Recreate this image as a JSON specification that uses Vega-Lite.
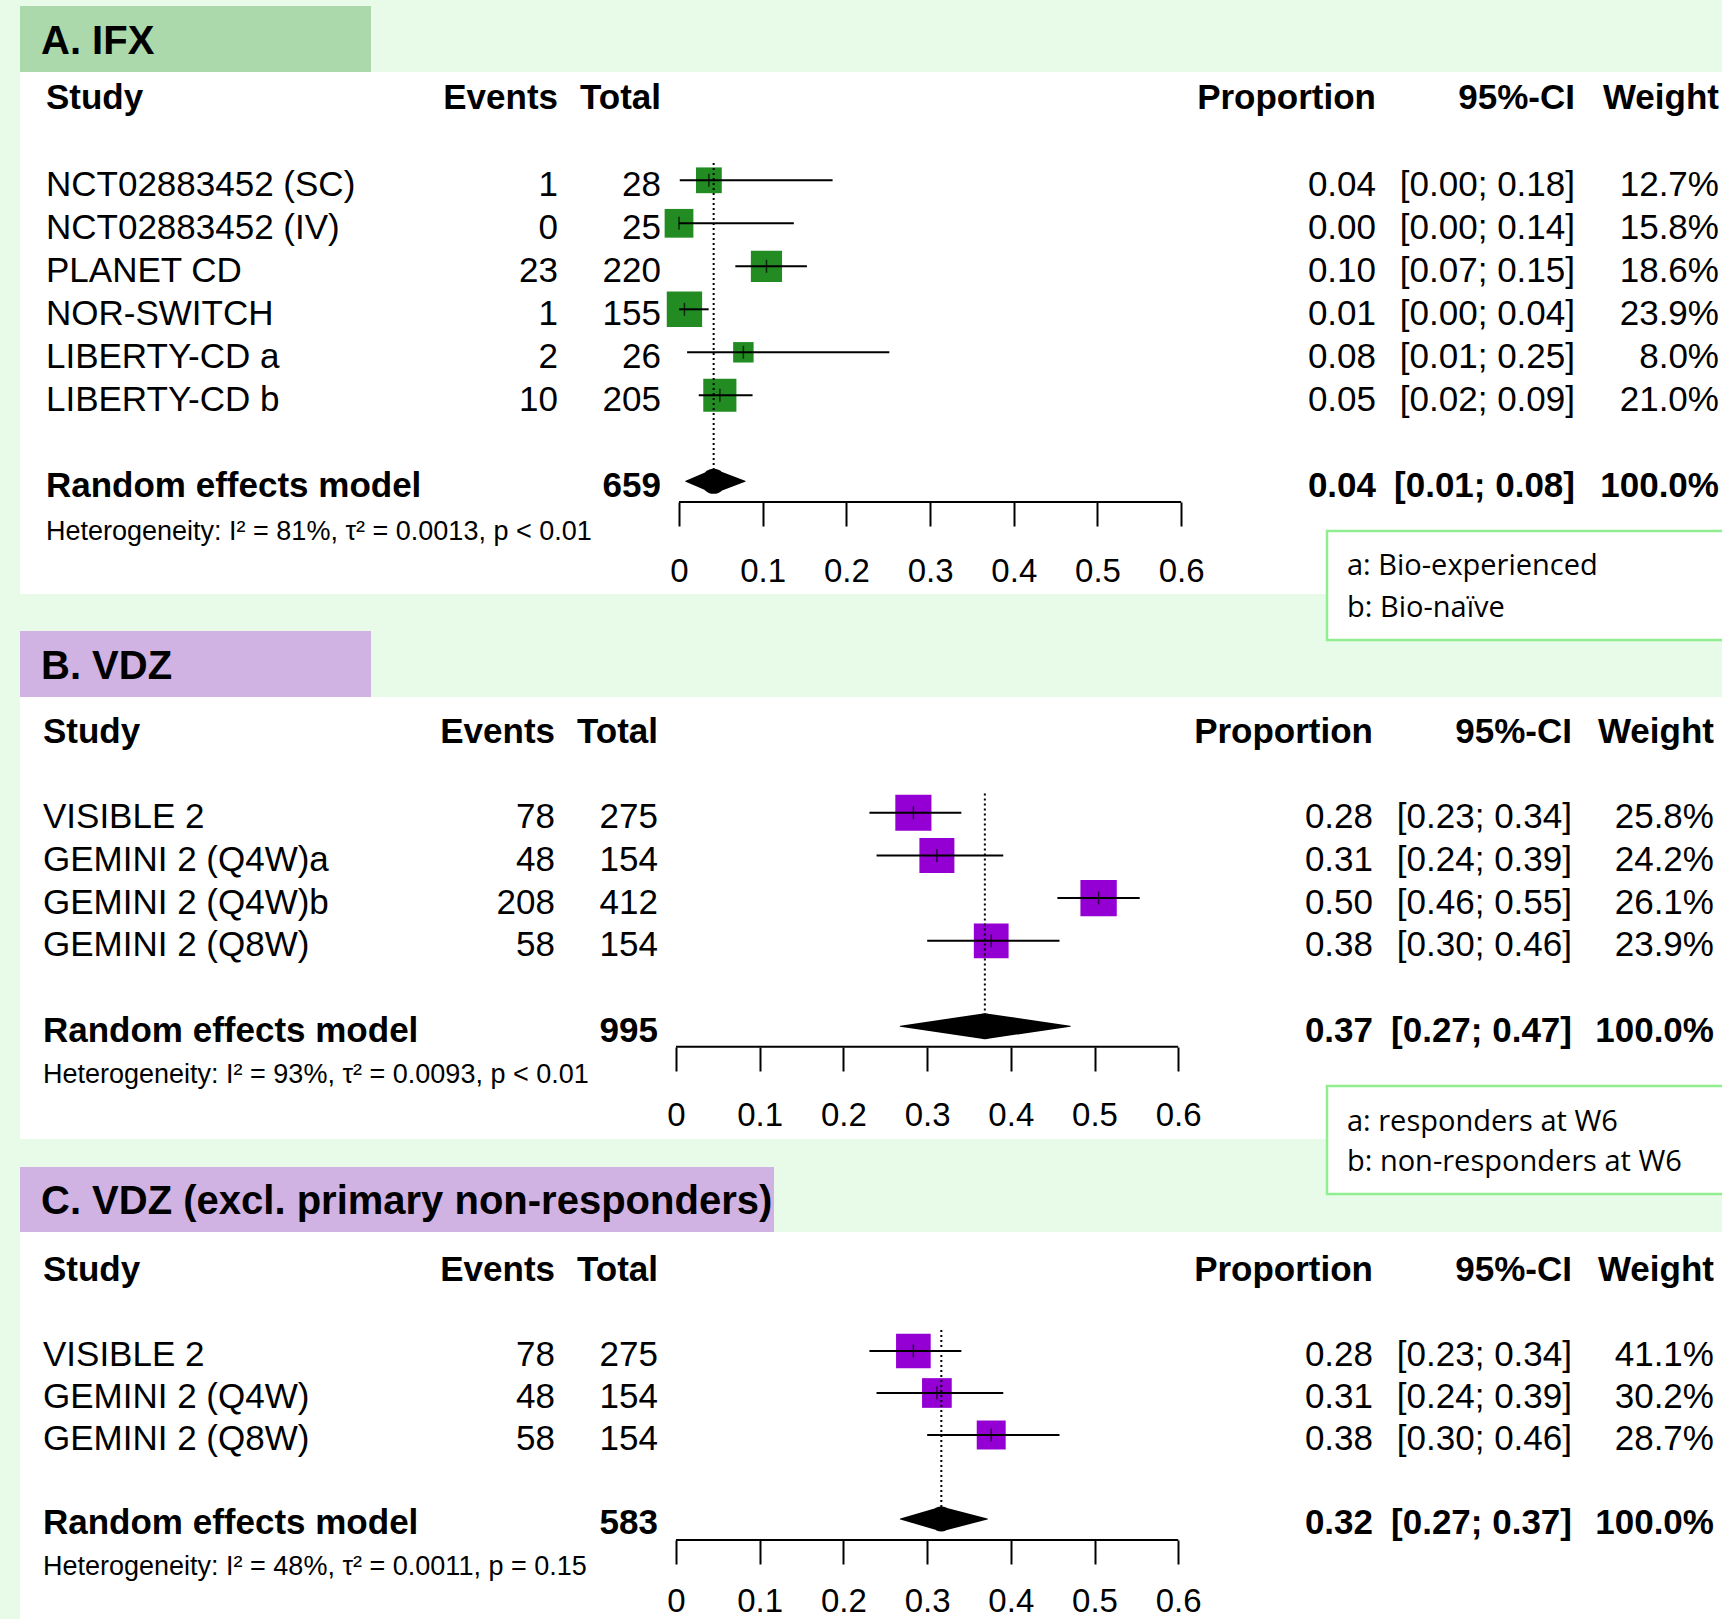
{
"$schema":"https://vega.github.io/schema/vega-lite/v6.json",
"background":"#E8FBE8",
"padding":{"left":20,"top":5,"right":0,"bottom":0},
"datasets":{
"one":[{}],
"A":[
{"study":"NCT02883452 (SC)","events":1,"total":28,"prop":0.0357,"lower":0.0009,"upper":0.1835,"weight":0.127},
{"study":"NCT02883452 (IV)","events":0,"total":25,"prop":0,"lower":0,"upper":0.1372,"weight":0.158},
{"study":"PLANET CD","events":23,"total":220,"prop":0.1045,"lower":0.0673,"upper":0.1528,"weight":0.186},
{"study":"NOR-SWITCH","events":1,"total":155,"prop":0.0065,"lower":0.0002,"upper":0.0354,"weight":0.239},
{"study":"LIBERTY-CD a","events":2,"total":26,"prop":0.0769,"lower":0.0097,"upper":0.2513,"weight":0.08},
{"study":"LIBERTY-CD b","events":10,"total":205,"prop":0.0488,"lower":0.0236,"upper":0.0879,"weight":0.21}],
"As":[{"study":"Random effects model","total":659,"prop":0.0414,"lower":0.008,"upper":0.079,"weight":1,"het":"Heterogeneity: I² = 81%, τ² = 0.0013, p < 0.01"}],
"B":[
{"study":"VISIBLE 2","events":78,"total":275,"prop":0.2836,"lower":0.2311,"upper":0.3409,"weight":0.258},
{"study":"GEMINI 2 (Q4W)a","events":48,"total":154,"prop":0.3117,"lower":0.2396,"upper":0.391,"weight":0.242},
{"study":"GEMINI 2 (Q4W)b","events":208,"total":412,"prop":0.5049,"lower":0.4557,"upper":0.554,"weight":0.261},
{"study":"GEMINI 2 (Q8W)","events":58,"total":154,"prop":0.3766,"lower":0.3001,"upper":0.4582,"weight":0.239}],
"Bs":[{"study":"Random effects model","total":995,"prop":0.369,"lower":0.268,"upper":0.471,"weight":1,"het":"Heterogeneity: I² = 93%, τ² = 0.0093, p < 0.01"}],
"C":[
{"study":"VISIBLE 2","events":78,"total":275,"prop":0.2836,"lower":0.2311,"upper":0.3409,"weight":0.411},
{"study":"GEMINI 2 (Q4W)","events":48,"total":154,"prop":0.3117,"lower":0.2396,"upper":0.391,"weight":0.302},
{"study":"GEMINI 2 (Q8W)","events":58,"total":154,"prop":0.3766,"lower":0.3001,"upper":0.4582,"weight":0.287}],
"Cs":[{"study":"Random effects model","total":583,"prop":0.317,"lower":0.268,"upper":0.372,"weight":1,"het":"Heterogeneity: I² = 48%, τ² = 0.0011, p = 0.15"}]
},
"spacing":103,
"bounds":"flush",
"resolve":{"scale":{"size":"independent"}},
"vconcat":[
{"width":1702,"height":522,"resolve":{"scale":{"size":"independent"}},"layer":[
{"data":{"name":"one"},"mark":{"type":"rect","fill":"#ABD9AB"},"encoding":{"x":{"datum":-0.78734,"type":"quantitative","scale":{"domain":[-0.78734,1.24612],"nice":false,"zero":false},"axis":{"values":[0,0.1,0.2,0.3,0.4,0.5,0.6],"format":".1~f","domain":false,"grid":false,"ticks":true,"tickSize":24,"tickWidth":2,"tickColor":"#000","labelFont":"Liberation Sans","labelFontSize":33,"labelColor":"#000","labelBaseline":"alphabetic","labelPadding":55.8,"offset":-92,"title":null,"labelFlush":false,"labelOverlap":false}},"x2":{"datum":-0.36798},"y":{"datum":-3.0535,"type":"quantitative","scale":{"domain":[-1.5186,10.6209],"reverse":true,"nice":false,"zero":false}},"y2":{"datum":-1.5186}}},
{"data":{"name":"one"},"mark":{"type":"text","style":["t","ttl"],"text":"A. IFX"},"encoding":{"x":{"datum":-0.76225,"type":"quantitative"},"y":{"datum":-2.263,"type":"quantitative"}}},
{"data":{"name":"one"},"mark":{"type":"text","style":["t","L","B"],"text":"Study"},"encoding":{"x":{"datum":-0.7563,"type":"quantitative"},"y":{"datum":-1.03,"type":"quantitative"}}},
{"data":{"name":"one"},"mark":{"type":"text","style":["t","R","B"],"text":"Events"},"encoding":{"x":{"datum":-0.14456,"type":"quantitative"},"y":{"datum":-1.03,"type":"quantitative"}}},
{"data":{"name":"one"},"mark":{"type":"text","style":["t","R","B"],"text":"Total"},"encoding":{"x":{"datum":-0.021505,"type":"quantitative"},"y":{"datum":-1.03,"type":"quantitative"}}},
{"data":{"name":"one"},"mark":{"type":"text","style":["t","R","B"],"text":"Proportion"},"encoding":{"x":{"datum":0.83274,"type":"quantitative"},"y":{"datum":-1.03,"type":"quantitative"}}},
{"data":{"name":"one"},"mark":{"type":"text","style":["t","R","B"],"text":"95%-CI"},"encoding":{"x":{"datum":1.07049,"type":"quantitative"},"y":{"datum":-1.03,"type":"quantitative"}}},
{"data":{"name":"one"},"mark":{"type":"text","style":["t","R","B"],"text":"Weight"},"encoding":{"x":{"datum":1.2425,"type":"quantitative"},"y":{"datum":-1.03,"type":"quantitative"}}},
{"data":{"name":"A"},"transform":[{"window":[{"op":"row_number","as":"row"}]}],"mark":{"type":"square","color":"#228B22","filled":true,"opacity":1},"encoding":{"x":{"field":"prop","type":"quantitative","title":null},"y":{"field":"row","type":"quantitative"},"size":{"field":"weight","type":"quantitative","scale":{"domain":[0,0.239],"range":[0,1250]}}}},
{"data":{"name":"A"},"transform":[{"window":[{"op":"row_number","as":"row"}]}],"mark":{"type":"rule","color":"#000","strokeWidth":2},"encoding":{"x":{"field":"lower","type":"quantitative","title":null},"x2":{"field":"upper"},"y":{"field":"row","type":"quantitative"}}},
{"data":{"name":"A"},"transform":[{"window":[{"op":"row_number","as":"row"}]}],"mark":{"type":"tick","orient":"vertical","color":"#000","size":13,"thickness":1.5},"encoding":{"x":{"field":"prop","type":"quantitative","title":null},"y":{"field":"row","type":"quantitative"}}},
{"data":{"name":"A"},"transform":[{"window":[{"op":"row_number","as":"row"}]}],"mark":{"type":"text","style":["t","L"]},"encoding":{"x":{"datum":-0.7563,"type":"quantitative"},"y":{"field":"row","type":"quantitative"},"text":{"field":"study","type":"nominal"}}},
{"data":{"name":"A"},"transform":[{"window":[{"op":"row_number","as":"row"}]}],"mark":{"type":"text","style":["t","R"]},"encoding":{"x":{"datum":-0.14456,"type":"quantitative"},"y":{"field":"row","type":"quantitative"},"text":{"field":"events","type":"nominal"}}},
{"data":{"name":"A"},"transform":[{"window":[{"op":"row_number","as":"row"}]}],"mark":{"type":"text","style":["t","R"]},"encoding":{"x":{"datum":-0.021505,"type":"quantitative"},"y":{"field":"row","type":"quantitative"},"text":{"field":"total","type":"nominal"}}},
{"data":{"name":"A"},"transform":[{"window":[{"op":"row_number","as":"row"}]}],"mark":{"type":"text","style":["t","R"]},"encoding":{"x":{"datum":0.83274,"type":"quantitative"},"y":{"field":"row","type":"quantitative"},"text":{"field":"prop","type":"quantitative","format":".2f"}}},
{"data":{"name":"A"},"transform":[{"window":[{"op":"row_number","as":"row"}]},{"calculate":"'[' + format(datum.lower,'.2f') + '; ' + format(datum.upper,'.2f') + ']'","as":"ci"}],"mark":{"type":"text","style":["t","R"]},"encoding":{"x":{"datum":1.07049,"type":"quantitative"},"y":{"field":"row","type":"quantitative"},"text":{"field":"ci","type":"nominal"}}},
{"data":{"name":"A"},"transform":[{"window":[{"op":"row_number","as":"row"}]}],"mark":{"type":"text","style":["t","R"]},"encoding":{"x":{"datum":1.2425,"type":"quantitative"},"y":{"field":"row","type":"quantitative"},"text":{"field":"weight","type":"quantitative","format":".1%"}}},
{"data":{"name":"As"},"mark":{"type":"text","style":["t","L","B"]},"encoding":{"x":{"datum":-0.7563,"type":"quantitative"},"y":{"datum":8,"type":"quantitative"},"text":{"field":"study","type":"nominal"}}},
{"data":{"name":"As"},"mark":{"type":"text","style":["t","R","B"]},"encoding":{"x":{"datum":-0.021505,"type":"quantitative"},"y":{"datum":8,"type":"quantitative"},"text":{"field":"total","type":"nominal"}}},
{"data":{"name":"As"},"mark":{"type":"text","style":["t","R","B"]},"encoding":{"x":{"datum":0.83274,"type":"quantitative"},"y":{"datum":8,"type":"quantitative"},"text":{"field":"prop","type":"quantitative","format":".2f"}}},
{"data":{"name":"As"},"transform":[{"calculate":"'[' + format(datum.lower,'.2f') + '; ' + format(datum.upper,'.2f') + ']'","as":"ci"}],"mark":{"type":"text","style":["t","R","B"]},"encoding":{"x":{"datum":1.07049,"type":"quantitative"},"y":{"datum":8,"type":"quantitative"},"text":{"field":"ci","type":"nominal"}}},
{"data":{"name":"As"},"mark":{"type":"text","style":["t","R","B"]},"encoding":{"x":{"datum":1.2425,"type":"quantitative"},"y":{"datum":8,"type":"quantitative"},"text":{"field":"weight","type":"quantitative","format":".1%"}}},
{"data":{"name":"As"},"mark":{"type":"text","style":["t","L","het"]},"encoding":{"x":{"datum":-0.7563,"type":"quantitative"},"y":{"datum":9.14,"type":"quantitative"},"text":{"field":"het","type":"nominal"}}},
{"data":{"name":"As"},"mark":{"type":"rule","color":"#000","strokeWidth":2,"strokeDash":[2,3]},"encoding":{"x":{"field":"prop","type":"quantitative","title":null},"y":{"datum":0.6,"type":"quantitative"},"y2":{"datum":8}}},
{"data":{"name":"As"},"transform":[{"fold":["lower","prop","upper"],"as":["k","v"]}],"mark":{"type":"trail","color":"#000"},"encoding":{"x":{"field":"v","type":"quantitative","title":null},"y":{"datum":8,"type":"quantitative"},"order":{"field":"v","type":"quantitative"},"size":{"field":"k","type":"ordinal","scale":{"type":"ordinal","domain":["lower","prop","upper"],"range":[0,25,0]}}}},
{"data":{"name":"one"},"mark":{"type":"rule","color":"#000","strokeWidth":2},"encoding":{"x":{"datum":0,"type":"quantitative"},"x2":{"datum":0.6},"y":{"datum":8.4814,"type":"quantitative"}}},
{"data":{"name":"one"},"mark":{"type":"rect","fill":"#fff","stroke":"#90EE90","strokeWidth":2.5},"encoding":{"x":{"datum":0.77419,"type":"quantitative"},"x2":{"datum":1.27},"y":{"datum":9.1558,"type":"quantitative"},"y2":{"datum":11.6907}}},
{"data":{"name":"one"},"mark":{"type":"text","style":["leg"],"text":"a: Bio-experienced"},"encoding":{"x":{"datum":0.79809,"type":"quantitative"},"y":{"datum":9.947,"type":"quantitative"}}},
{"data":{"name":"one"},"mark":{"type":"text","style":["leg"],"text":"b: Bio-naïve"},"encoding":{"x":{"datum":0.79809,"type":"quantitative"},"y":{"datum":10.923,"type":"quantitative"}}}
]},
{"spacing":93,"bounds":"flush","resolve":{"scale":{"size":"independent"}},"vconcat":[
{"width":1702,"height":442,"resolve":{"scale":{"size":"independent"}},"layer":[
{"data":{"name":"one"},"mark":{"type":"rect","fill":"#D1B3E3"},"encoding":{"x":{"datum":-0.78375,"type":"quantitative","scale":{"domain":[-0.78375,1.2497],"nice":false,"zero":false},"axis":{"values":[0,0.1,0.2,0.3,0.4,0.5,0.6],"format":".1~f","domain":false,"grid":false,"ticks":true,"tickSize":24,"tickWidth":2,"tickColor":"#000","labelFont":"Liberation Sans","labelFontSize":33,"labelColor":"#000","labelBaseline":"alphabetic","labelPadding":54,"offset":-92,"title":null,"labelFlush":false,"labelOverlap":false}},"x2":{"datum":-0.3644},"y":{"datum":-3.2553,"type":"quantitative","scale":{"domain":[-1.7096,8.6417],"reverse":true,"nice":false,"zero":false}},"y2":{"datum":-1.7096}}},
{"data":{"name":"one"},"mark":{"type":"text","style":["t","ttl"],"text":"B. VDZ"},"encoding":{"x":{"datum":-0.75866,"type":"quantitative"},"y":{"datum":-2.459,"type":"quantitative"}}},
{"data":{"name":"one"},"mark":{"type":"text","style":["t","L","B"],"text":"Study"},"encoding":{"x":{"datum":-0.7563,"type":"quantitative"},"y":{"datum":-1.007,"type":"quantitative"}}},
{"data":{"name":"one"},"mark":{"type":"text","style":["t","R","B"],"text":"Events"},"encoding":{"x":{"datum":-0.14456,"type":"quantitative"},"y":{"datum":-1.007,"type":"quantitative"}}},
{"data":{"name":"one"},"mark":{"type":"text","style":["t","R","B"],"text":"Total"},"encoding":{"x":{"datum":-0.021505,"type":"quantitative"},"y":{"datum":-1.007,"type":"quantitative"}}},
{"data":{"name":"one"},"mark":{"type":"text","style":["t","R","B"],"text":"Proportion"},"encoding":{"x":{"datum":0.83274,"type":"quantitative"},"y":{"datum":-1.007,"type":"quantitative"}}},
{"data":{"name":"one"},"mark":{"type":"text","style":["t","R","B"],"text":"95%-CI"},"encoding":{"x":{"datum":1.07049,"type":"quantitative"},"y":{"datum":-1.007,"type":"quantitative"}}},
{"data":{"name":"one"},"mark":{"type":"text","style":["t","R","B"],"text":"Weight"},"encoding":{"x":{"datum":1.2401,"type":"quantitative"},"y":{"datum":-1.007,"type":"quantitative"}}},
{"data":{"name":"B"},"transform":[{"window":[{"op":"row_number","as":"row"}]}],"mark":{"type":"square","color":"#9400D3","filled":true,"opacity":1},"encoding":{"x":{"field":"prop","type":"quantitative","title":null},"y":{"field":"row","type":"quantitative"},"size":{"field":"weight","type":"quantitative","scale":{"domain":[0,0.261],"range":[0,1320]}}}},
{"data":{"name":"B"},"transform":[{"window":[{"op":"row_number","as":"row"}]}],"mark":{"type":"rule","color":"#000","strokeWidth":2},"encoding":{"x":{"field":"lower","type":"quantitative","title":null},"x2":{"field":"upper"},"y":{"field":"row","type":"quantitative"}}},
{"data":{"name":"B"},"transform":[{"window":[{"op":"row_number","as":"row"}]}],"mark":{"type":"tick","orient":"vertical","color":"#000","size":13,"thickness":1.5},"encoding":{"x":{"field":"prop","type":"quantitative","title":null},"y":{"field":"row","type":"quantitative"}}},
{"data":{"name":"B"},"transform":[{"window":[{"op":"row_number","as":"row"}]}],"mark":{"type":"text","style":["t","L"]},"encoding":{"x":{"datum":-0.7563,"type":"quantitative"},"y":{"field":"row","type":"quantitative"},"text":{"field":"study","type":"nominal"}}},
{"data":{"name":"B"},"transform":[{"window":[{"op":"row_number","as":"row"}]}],"mark":{"type":"text","style":["t","R"]},"encoding":{"x":{"datum":-0.14456,"type":"quantitative"},"y":{"field":"row","type":"quantitative"},"text":{"field":"events","type":"nominal"}}},
{"data":{"name":"B"},"transform":[{"window":[{"op":"row_number","as":"row"}]}],"mark":{"type":"text","style":["t","R"]},"encoding":{"x":{"datum":-0.021505,"type":"quantitative"},"y":{"field":"row","type":"quantitative"},"text":{"field":"total","type":"nominal"}}},
{"data":{"name":"B"},"transform":[{"window":[{"op":"row_number","as":"row"}]}],"mark":{"type":"text","style":["t","R"]},"encoding":{"x":{"datum":0.83274,"type":"quantitative"},"y":{"field":"row","type":"quantitative"},"text":{"field":"prop","type":"quantitative","format":".2f"}}},
{"data":{"name":"B"},"transform":[{"window":[{"op":"row_number","as":"row"}]},{"calculate":"'[' + format(datum.lower,'.2f') + '; ' + format(datum.upper,'.2f') + ']'","as":"ci"}],"mark":{"type":"text","style":["t","R"]},"encoding":{"x":{"datum":1.07049,"type":"quantitative"},"y":{"field":"row","type":"quantitative"},"text":{"field":"ci","type":"nominal"}}},
{"data":{"name":"B"},"transform":[{"window":[{"op":"row_number","as":"row"}]}],"mark":{"type":"text","style":["t","R"]},"encoding":{"x":{"datum":1.2401,"type":"quantitative"},"y":{"field":"row","type":"quantitative"},"text":{"field":"weight","type":"quantitative","format":".1%"}}},
{"data":{"name":"Bs"},"mark":{"type":"text","style":["t","L","B"]},"encoding":{"x":{"datum":-0.7563,"type":"quantitative"},"y":{"datum":6,"type":"quantitative"},"text":{"field":"study","type":"nominal"}}},
{"data":{"name":"Bs"},"mark":{"type":"text","style":["t","R","B"]},"encoding":{"x":{"datum":-0.021505,"type":"quantitative"},"y":{"datum":6,"type":"quantitative"},"text":{"field":"total","type":"nominal"}}},
{"data":{"name":"Bs"},"mark":{"type":"text","style":["t","R","B"]},"encoding":{"x":{"datum":0.83274,"type":"quantitative"},"y":{"datum":6,"type":"quantitative"},"text":{"field":"prop","type":"quantitative","format":".2f"}}},
{"data":{"name":"Bs"},"transform":[{"calculate":"'[' + format(datum.lower,'.2f') + '; ' + format(datum.upper,'.2f') + ']'","as":"ci"}],"mark":{"type":"text","style":["t","R","B"]},"encoding":{"x":{"datum":1.07049,"type":"quantitative"},"y":{"datum":6,"type":"quantitative"},"text":{"field":"ci","type":"nominal"}}},
{"data":{"name":"Bs"},"mark":{"type":"text","style":["t","R","B"]},"encoding":{"x":{"datum":1.2401,"type":"quantitative"},"y":{"datum":6,"type":"quantitative"},"text":{"field":"weight","type":"quantitative","format":".1%"}}},
{"data":{"name":"Bs"},"mark":{"type":"text","style":["t","L","het"]},"encoding":{"x":{"datum":-0.7563,"type":"quantitative"},"y":{"datum":7.11,"type":"quantitative"},"text":{"field":"het","type":"nominal"}}},
{"data":{"name":"Bs"},"mark":{"type":"rule","color":"#000","strokeWidth":2,"strokeDash":[2,3]},"encoding":{"x":{"field":"prop","type":"quantitative","title":null},"y":{"datum":0.55,"type":"quantitative"},"y2":{"datum":6}}},
{"data":{"name":"Bs"},"transform":[{"fold":["lower","prop","upper"],"as":["k","v"]}],"mark":{"type":"trail","color":"#000"},"encoding":{"x":{"field":"v","type":"quantitative","title":null},"y":{"datum":6,"type":"quantitative"},"order":{"field":"v","type":"quantitative"},"size":{"field":"k","type":"ordinal","scale":{"type":"ordinal","domain":["lower","prop","upper"],"range":[0,26,0]}}}},
{"data":{"name":"one"},"mark":{"type":"rule","color":"#000","strokeWidth":2},"encoding":{"x":{"datum":0,"type":"quantitative"},"x2":{"datum":0.6},"y":{"datum":6.48,"type":"quantitative"}}},
{"data":{"name":"one"},"mark":{"type":"rect","fill":"#fff","stroke":"#90EE90","strokeWidth":2.5},"encoding":{"x":{"datum":0.77778,"type":"quantitative"},"x2":{"datum":1.27},"y":{"datum":7.4005,"type":"quantitative"},"y2":{"datum":9.9297}}},
{"data":{"name":"one"},"mark":{"type":"text","style":["leg"],"text":"a: responders at W6"},"encoding":{"x":{"datum":0.80167,"type":"quantitative"},"y":{"datum":8.22,"type":"quantitative"}}},
{"data":{"name":"one"},"mark":{"type":"text","style":["leg"],"text":"b: non-responders  at W6"},"encoding":{"x":{"datum":0.80167,"type":"quantitative"},"y":{"datum":9.157,"type":"quantitative"}}}
]},
{"width":1702,"height":388,"resolve":{"scale":{"size":"independent"}},"layer":[
{"data":{"name":"one"},"mark":{"type":"rect","fill":"#D1B3E3"},"encoding":{"x":{"datum":-0.78375,"type":"quantitative","scale":{"domain":[-0.78375,1.2497],"nice":false,"zero":false},"axis":{"values":[0,0.1,0.2,0.3,0.4,0.5,0.6],"format":".1~f","domain":false,"grid":false,"ticks":true,"tickSize":24,"tickWidth":2,"tickColor":"#000","labelFont":"Liberation Sans","labelFontSize":33,"labelColor":"#000","labelBaseline":"alphabetic","labelPadding":47.5,"offset":-80,"title":null,"labelFlush":false,"labelOverlap":false}},"x2":{"datum":0.11708},"y":{"datum":-3.381,"type":"quantitative","scale":{"domain":[-1.8333,7.4048],"reverse":true,"nice":false,"zero":false}},"y2":{"datum":-1.8333}}},
{"data":{"name":"one"},"mark":{"type":"text","style":["t","ttl"],"text":"C. VDZ (excl. primary non-responders)"},"encoding":{"x":{"datum":-0.75866,"type":"quantitative"},"y":{"datum":-2.595,"type":"quantitative"}}},
{"data":{"name":"one"},"mark":{"type":"text","style":["t","L","B"],"text":"Study"},"encoding":{"x":{"datum":-0.7563,"type":"quantitative"},"y":{"datum":-1.024,"type":"quantitative"}}},
{"data":{"name":"one"},"mark":{"type":"text","style":["t","R","B"],"text":"Events"},"encoding":{"x":{"datum":-0.14456,"type":"quantitative"},"y":{"datum":-1.024,"type":"quantitative"}}},
{"data":{"name":"one"},"mark":{"type":"text","style":["t","R","B"],"text":"Total"},"encoding":{"x":{"datum":-0.021505,"type":"quantitative"},"y":{"datum":-1.024,"type":"quantitative"}}},
{"data":{"name":"one"},"mark":{"type":"text","style":["t","R","B"],"text":"Proportion"},"encoding":{"x":{"datum":0.83274,"type":"quantitative"},"y":{"datum":-1.024,"type":"quantitative"}}},
{"data":{"name":"one"},"mark":{"type":"text","style":["t","R","B"],"text":"95%-CI"},"encoding":{"x":{"datum":1.07049,"type":"quantitative"},"y":{"datum":-1.024,"type":"quantitative"}}},
{"data":{"name":"one"},"mark":{"type":"text","style":["t","R","B"],"text":"Weight"},"encoding":{"x":{"datum":1.2401,"type":"quantitative"},"y":{"datum":-1.024,"type":"quantitative"}}},
{"data":{"name":"C"},"transform":[{"window":[{"op":"row_number","as":"row"}]}],"mark":{"type":"square","color":"#9400D3","filled":true,"opacity":1},"encoding":{"x":{"field":"prop","type":"quantitative","title":null},"y":{"field":"row","type":"quantitative"},"size":{"field":"weight","type":"quantitative","scale":{"domain":[0,0.411],"range":[0,1200]}}}},
{"data":{"name":"C"},"transform":[{"window":[{"op":"row_number","as":"row"}]}],"mark":{"type":"rule","color":"#000","strokeWidth":2},"encoding":{"x":{"field":"lower","type":"quantitative","title":null},"x2":{"field":"upper"},"y":{"field":"row","type":"quantitative"}}},
{"data":{"name":"C"},"transform":[{"window":[{"op":"row_number","as":"row"}]}],"mark":{"type":"tick","orient":"vertical","color":"#000","size":13,"thickness":1.5},"encoding":{"x":{"field":"prop","type":"quantitative","title":null},"y":{"field":"row","type":"quantitative"}}},
{"data":{"name":"C"},"transform":[{"window":[{"op":"row_number","as":"row"}]}],"mark":{"type":"text","style":["t","L"]},"encoding":{"x":{"datum":-0.7563,"type":"quantitative"},"y":{"field":"row","type":"quantitative"},"text":{"field":"study","type":"nominal"}}},
{"data":{"name":"C"},"transform":[{"window":[{"op":"row_number","as":"row"}]}],"mark":{"type":"text","style":["t","R"]},"encoding":{"x":{"datum":-0.14456,"type":"quantitative"},"y":{"field":"row","type":"quantitative"},"text":{"field":"events","type":"nominal"}}},
{"data":{"name":"C"},"transform":[{"window":[{"op":"row_number","as":"row"}]}],"mark":{"type":"text","style":["t","R"]},"encoding":{"x":{"datum":-0.021505,"type":"quantitative"},"y":{"field":"row","type":"quantitative"},"text":{"field":"total","type":"nominal"}}},
{"data":{"name":"C"},"transform":[{"window":[{"op":"row_number","as":"row"}]}],"mark":{"type":"text","style":["t","R"]},"encoding":{"x":{"datum":0.83274,"type":"quantitative"},"y":{"field":"row","type":"quantitative"},"text":{"field":"prop","type":"quantitative","format":".2f"}}},
{"data":{"name":"C"},"transform":[{"window":[{"op":"row_number","as":"row"}]},{"calculate":"'[' + format(datum.lower,'.2f') + '; ' + format(datum.upper,'.2f') + ']'","as":"ci"}],"mark":{"type":"text","style":["t","R"]},"encoding":{"x":{"datum":1.07049,"type":"quantitative"},"y":{"field":"row","type":"quantitative"},"text":{"field":"ci","type":"nominal"}}},
{"data":{"name":"C"},"transform":[{"window":[{"op":"row_number","as":"row"}]}],"mark":{"type":"text","style":["t","R"]},"encoding":{"x":{"datum":1.2401,"type":"quantitative"},"y":{"field":"row","type":"quantitative"},"text":{"field":"weight","type":"quantitative","format":".1%"}}},
{"data":{"name":"Cs"},"mark":{"type":"text","style":["t","L","B"]},"encoding":{"x":{"datum":-0.7563,"type":"quantitative"},"y":{"datum":5,"type":"quantitative"},"text":{"field":"study","type":"nominal"}}},
{"data":{"name":"Cs"},"mark":{"type":"text","style":["t","R","B"]},"encoding":{"x":{"datum":-0.021505,"type":"quantitative"},"y":{"datum":5,"type":"quantitative"},"text":{"field":"total","type":"nominal"}}},
{"data":{"name":"Cs"},"mark":{"type":"text","style":["t","R","B"]},"encoding":{"x":{"datum":0.83274,"type":"quantitative"},"y":{"datum":5,"type":"quantitative"},"text":{"field":"prop","type":"quantitative","format":".2f"}}},
{"data":{"name":"Cs"},"transform":[{"calculate":"'[' + format(datum.lower,'.2f') + '; ' + format(datum.upper,'.2f') + ']'","as":"ci"}],"mark":{"type":"text","style":["t","R","B"]},"encoding":{"x":{"datum":1.07049,"type":"quantitative"},"y":{"datum":5,"type":"quantitative"},"text":{"field":"ci","type":"nominal"}}},
{"data":{"name":"Cs"},"mark":{"type":"text","style":["t","R","B"]},"encoding":{"x":{"datum":1.2401,"type":"quantitative"},"y":{"datum":5,"type":"quantitative"},"text":{"field":"weight","type":"quantitative","format":".1%"}}},
{"data":{"name":"Cs"},"mark":{"type":"text","style":["t","L","het"]},"encoding":{"x":{"datum":-0.7563,"type":"quantitative"},"y":{"datum":6.11,"type":"quantitative"},"text":{"field":"het","type":"nominal"}}},
{"data":{"name":"Cs"},"mark":{"type":"rule","color":"#000","strokeWidth":2,"strokeDash":[2,3]},"encoding":{"x":{"field":"prop","type":"quantitative","title":null},"y":{"datum":0.5,"type":"quantitative"},"y2":{"datum":5}}},
{"data":{"name":"Cs"},"transform":[{"fold":["lower","prop","upper"],"as":["k","v"]}],"mark":{"type":"trail","color":"#000"},"encoding":{"x":{"field":"v","type":"quantitative","title":null},"y":{"datum":5,"type":"quantitative"},"order":{"field":"v","type":"quantitative"},"size":{"field":"k","type":"ordinal","scale":{"type":"ordinal","domain":["lower","prop","upper"],"range":[0,25,0]}}}},
{"data":{"name":"one"},"mark":{"type":"rule","color":"#000","strokeWidth":2},"encoding":{"x":{"datum":0,"type":"quantitative"},"x2":{"datum":0.6},"y":{"datum":5.5,"type":"quantitative"}}}
]}
]}
],
"config":{
"view":{"fill":"white","stroke":null},
"axisY":{"disable":true},
"legend":{"disable":true},
"text":{"font":"Liberation Sans"},
"style":{
"t":{"font":"Liberation Sans","fontSize":35,"baseline":"alphabetic","dy":15.5,"fill":"#000"},
"L":{"align":"left"},
"R":{"align":"right"},
"B":{"fontWeight":"bold"},
"het":{"fontSize":27,"dy":9.7},
"ttl":{"fontSize":40,"fontWeight":"bold","dy":14.3,"align":"left"},
"leg":{"font":"Open Sans","fontSize":29,"dy":10.4,"align":"left","baseline":"alphabetic","fill":"#000"}
}
}
}
